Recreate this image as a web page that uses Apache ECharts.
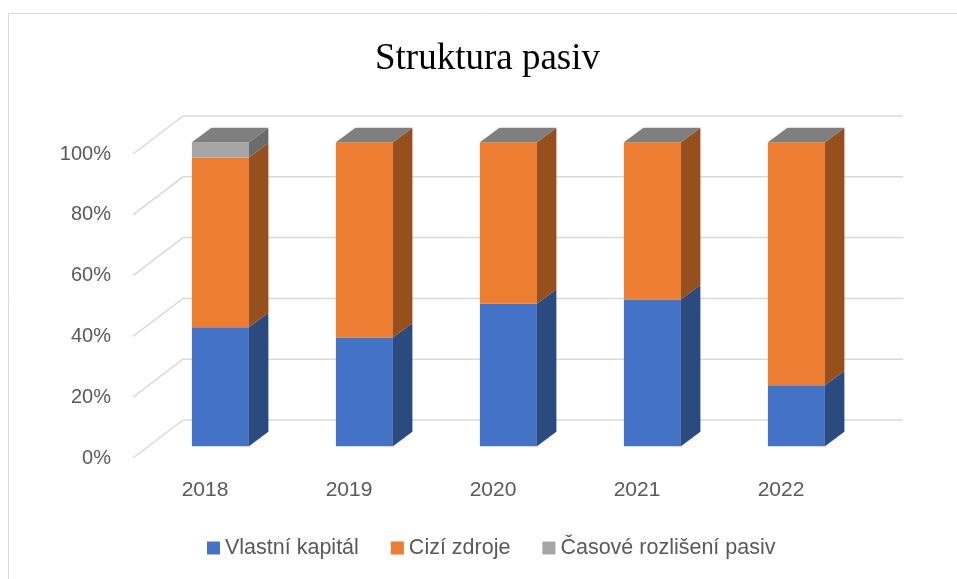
<!DOCTYPE html>
<html>
<head>
<meta charset="utf-8">
<script src="https://cdn.jsdelivr.net/npm/echarts@6/dist/echarts.min.js"></script>
<style>
  html, body { margin: 0; padding: 0; background: #fff; }
  #chart { width: 957px; height: 579px; }
</style>
</head>
<body>
<div id="chart"></div>
<script>
// data
const years = ['2018', '2019', '2020', '2021', '2022'];
const vlastniKapital = [39.2, 35.8, 46.9, 48.3, 20.1];
const ciziZdroje = [55.8, 64.2, 53.1, 51.7, 79.9];
const casoveRozliseni = [5.0, 0, 0, 0, 0];
const yTicks = [0, 20, 40, 60, 80, 100];

// 3D look (pixels)
const WALL_DX = 50, WALL_DY = -38;      // depth of the back wall
const BAR_DX = 15.4, BAR_DY = -11.7;    // bar front plane vs. axis plane
const DEPTH_X = 19.5, DEPTH_Y = -14.5;  // depth of one bar
const BAR_W = 57;

const chart = echarts.init(document.getElementById('chart'));

function stackBase(idx) {
    const all = [vlastniKapital, ciziZdroje, casoveRozliseni];
    return years.map((y, i) => {
        let s = 0;
        for (let k = 0; k < idx; k++) s += all[k][i];
        return s;
    });
}

function barData(vals, idx) {
    const base = stackBase(idx);
    return years.map((y, i) => [i, base[i], base[i] + vals[i]]);
}

function barRenderer(front, side, top, drawTop) {
    return function (params, api) {
        const i = api.value(0);
        const p0 = api.coord([i, api.value(1)]);
        const p1 = api.coord([i, api.value(2)]);
        const xl = p0[0] + BAR_DX - BAR_W / 2;
        const xr = xl + BAR_W;
        const yb = p0[1] + BAR_DY;
        const yt = p1[1] + BAR_DY;
        const children = [];
        if (yb - yt > 0.01) {
            children.push({
                type: 'rect',
                shape: { x: xl, y: yt, width: BAR_W, height: yb - yt },
                style: { fill: front }
            });
            children.push({
                type: 'polygon',
                shape: { points: [[xr, yb], [xr + DEPTH_X, yb + DEPTH_Y], [xr + DEPTH_X, yt + DEPTH_Y], [xr, yt]] },
                style: { fill: side }
            });
        }
        if (drawTop) {
            children.push({
                type: 'polygon',
                shape: { points: [[xl, yt], [xr, yt], [xr + DEPTH_X, yt + DEPTH_Y], [xl + DEPTH_X, yt + DEPTH_Y]] },
                style: { fill: top }
            });
        }
        return { type: 'group', children: children };
    };
}

function wallRenderer(params, api) {
    const y = api.coord([0, api.value(1)])[1];
    const x0 = params.coordSys.x;
    const w = params.coordSys.width;
    return {
        type: 'polyline',
        shape: { points: [[x0, y], [x0 + WALL_DX, y + WALL_DY], [x0 + WALL_DX + w, y + WALL_DY]] },
        style: { stroke: '#d9d9d9', lineWidth: 1.5, fill: null }
    };
}

const option = {
    backgroundColor: '#fff',
    animation: false,
    title: {
        text: 'Struktura pasiv',
        left: 375,
        top: 41,
        padding: 0,
        textStyle: {
            fontFamily: 'Liberation Serif',
            fontWeight: 'normal',
            fontSize: 37,
            color: '#000'
        }
    },
    graphic: [{
        type: 'rect',
        shape: { x: 8.5, y: 13.5, width: 1000, height: 1000 },
        style: { fill: 'none', stroke: '#d9d9d9', lineWidth: 1 },
        silent: true
    }],
    legend: {
        data: ['Vlastní kapitál', 'Cizí zdroje', 'Časové rozlišení pasiv'],
        left: 207,
        top: 537,
        padding: 0,
        icon: 'rect',
        itemWidth: 13,
        itemHeight: 13,
        itemGap: 32,
        textStyle: {
            fontFamily: 'Liberation Sans',
            fontSize: 21.5,
            color: '#595959'
        }
    },
    grid: {
        left: 133,
        top: 154,
        width: 720,
        height: 304
    },
    xAxis: {
        type: 'category',
        data: years,
        axisLine: { show: false },
        axisTick: { show: false },
        axisLabel: {
            margin: 22,
            fontFamily: 'Liberation Sans',
            fontSize: 21,
            color: '#595959'
        }
    },
    yAxis: {
        type: 'value',
        min: 0,
        max: 100,
        interval: 20,
        axisLine: { show: false },
        axisTick: { show: false },
        splitLine: { show: false },
        axisLabel: {
            formatter: '{value}%',
            margin: 22,
            fontFamily: 'Liberation Sans',
            fontSize: 20,
            color: '#595959'
        }
    },
    series: [
        {
            type: 'custom',
            name: 'walls',
            z: 1,
            silent: true,
            renderItem: wallRenderer,
            encode: { x: 0, y: 1 },
            data: yTicks.map(v => [0, v])
        },
        {
            type: 'custom',
            name: 'Vlastní kapitál',
            z: 2,
            itemStyle: { color: '#4472c4' },
            renderItem: barRenderer('#4472c4', '#2b4a80', '#7f7f7f', false),
            encode: { x: 0, y: 2 },
            data: barData(vlastniKapital, 0)
        },
        {
            type: 'custom',
            name: 'Cizí zdroje',
            z: 3,
            itemStyle: { color: '#ed7d31' },
            renderItem: barRenderer('#ed7d31', '#974f1d', '#7f7f7f', false),
            encode: { x: 0, y: 2 },
            data: barData(ciziZdroje, 1)
        },
        {
            type: 'custom',
            name: 'Časové rozlišení pasiv',
            z: 4,
            itemStyle: { color: '#a5a5a5' },
            renderItem: barRenderer('#a5a5a5', '#6b6b6b', '#7f7f7f', true),
            encode: { x: 0, y: 2 },
            data: barData(casoveRozliseni, 2)
        }
    ]
};

chart.setOption(option);
</script>
</body>
</html>
